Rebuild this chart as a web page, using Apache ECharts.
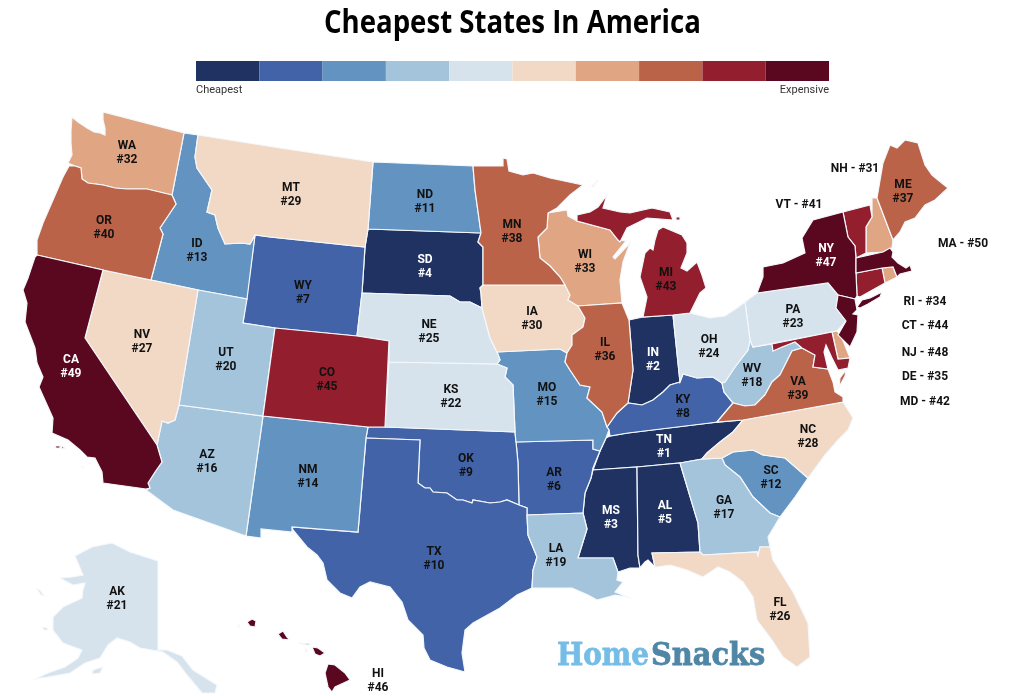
<!DOCTYPE html>
<html>
<head>
<meta charset="utf-8">
<style>
html, body { margin: 0; padding: 0; background: #fff; }
#usChart { width: 1024px; height: 696px; }
</style>
<script src="https://cdn.jsdelivr.net/npm/echarts@6/dist/echarts.min.js"></script>
</head>
<body>
<div id="usChart"></div>
<script>
// ranks
const stateCodes = ['TN','IN','MS','SD','AL','AR','WY','KY','OK','TX','ND','SC','ID','NM','MO','AZ','GA','WV','LA','UT',
    'AK','KS','PA','OH','NE','FL','NV','NC','MT','IA','NH','WA','WI','RI','DE','IL','ME','MN','VA','OR',
    'VT','MD','MI','CT','CO','HI','NY','NJ','CA','MA'];
const stateRanks = [1,2,3,4,5,6,7,8,9,10,11,12,13,14,15,16,17,18,19,20,
    21,22,23,24,25,26,27,28,29,30,31,32,33,34,35,36,37,38,39,40,
    41,42,43,44,45,46,47,48,49,50];
const binColors = ['#1f3262','#4263a8','#6393c1','#a4c4dc','#d6e3ec','#f2d9c5','#e0a583','#ba6349','#931e2d','#5a0820'];
const binSize = 5;
// small states labelled beside the map, on one line
const sideLabelStates = ['NH','VT','MA','RI','CT','NJ','DE','MD'];
// dark fills that carry a white label
const whiteLabelStates = ['TN','IN','MS','SD','AL','NY','CA'];

// state outlines, traced in picture coordinates (no map file available offline)
const stateOutlines = {
    WA: [[[72,117],[78,122],[87,128],[94,132],[100,133],[105,135],[105,128],[103,120],[103,112],[184,133],[172,195],[147,189],[127,189],[115,188],[103,185],[88,183],[82,179],[81,168],[75,166],[68,163],[72,155],[71,143],[71,130]]],
    OR: [[[69,166],[75,166],[81,168],[82,179],[88,183],[103,185],[115,188],[127,189],[147,189],[172,195],[176,204],[170,213],[160,228],[163,234],[151,280],[103,270],[37,255],[37,240],[43,223],[53,200],[63,177]]],
    ID: [[[184,133],[198,135],[195,157],[197,168],[212,190],[207,212],[215,215],[218,228],[225,244],[242,243],[250,244],[255,235],[247,299],[198,290],[151,280],[163,234],[160,228],[170,213],[176,204],[172,195]]],
    MT: [[[198,135],[280,148],[373,162],[368,229],[365,247],[270,237],[255,235],[250,244],[242,243],[225,244],[218,228],[215,215],[207,212],[212,190],[197,168],[195,157]]],
    ND: [[[373,162],[473,166],[475,190],[481,233],[368,229]]],
    SD: [[[368,229],[481,233],[478,242],[483,247],[483,285],[480,288],[481,293],[482,308],[470,302],[460,302],[450,296],[362,293],[365,247]]],
    MN: [[[473,166],[503,166],[503,158],[507,159],[509,171],[523,175],[533,173],[550,178],[583,185],[570,195],[557,208],[548,213],[547,228],[538,237],[540,258],[550,266],[560,277],[565,285],[483,285],[483,247],[478,242],[481,233],[475,190]]],
    WI: [[[548,213],[567,210],[568,216],[577,221],[610,230],[618,240],[626,241],[613,257],[615,259],[630,243],[623,262],[620,280],[622,303],[578,306],[568,300],[570,295],[565,285],[560,277],[550,266],[540,258],[538,237],[547,228]]],
    IA: [[[483,285],[565,285],[570,295],[568,300],[578,306],[585,318],[583,327],[572,335],[572,345],[567,353],[560,349],[497,352],[490,338],[482,308],[481,293],[480,288]]],
    NE: [[[362,293],[450,296],[460,302],[470,302],[482,308],[490,338],[497,352],[500,360],[497,364],[389,362],[389,341],[357,336]]],
    KS: [[[389,362],[497,364],[507,368],[505,377],[513,385],[515,432],[385,427]]],
    WY: [[[255,235],[270,237],[365,247],[362,293],[357,336],[275,328],[243,323]]],
    NV: [[[103,270],[151,280],[198,290],[179,405],[175,420],[168,423],[162,421],[157,445],[85,338]]],
    UT: [[[198,290],[247,299],[243,323],[275,328],[263,416],[179,405]]],
    CO: [[[275,328],[357,336],[389,341],[385,427],[368,427],[263,416]]],
    CA: [[[37,255],[103,270],[85,338],[157,445],[162,462],[155,472],[148,483],[150,488],[146,489],[103,483],[102,472],[95,458],[87,457],[80,450],[68,440],[52,433],[53,418],[39,387],[43,377],[37,363],[35,348],[25,322],[27,303],[23,290],[28,278],[35,257]],
        [[55,446],[60,446],[60,448],[56,448]], [[61,446],[65,448],[62,449]], [[81,466],[84,468],[83,469]]],
    AZ: [[[179,405],[263,416],[246,536],[173,510],[146,490],[150,488],[148,483],[155,472],[162,462],[157,445],[162,421],[168,423],[175,420]]],
    NM: [[[263,416],[368,427],[366,438],[358,532],[292,527],[292,532],[261,529],[261,538],[246,536]]],
    OK: [[[368,427],[385,427],[515,432],[516,442],[518,463],[519,505],[507,500],[500,502],[490,503],[473,500],[472,503],[463,500],[457,500],[447,493],[433,492],[430,488],[425,488],[418,483],[420,440],[366,438]]],
    TX: [[[366,438],[420,440],[418,483],[425,488],[430,488],[433,492],[447,493],[457,500],[463,500],[472,503],[473,500],[490,503],[500,502],[507,500],[519,505],[527,508],[527,515],[528,535],[537,557],[533,570],[532,588],[517,595],[500,608],[473,623],[465,630],[462,653],[465,672],[447,667],[430,660],[424,648],[423,635],[408,620],[402,602],[390,587],[370,582],[360,587],[352,598],[340,593],[327,580],[323,563],[317,555],[307,547],[293,530],[292,527],[358,532]]],
    AR: [[[516,442],[593,440],[593,449],[600,451],[593,468],[591,478],[585,493],[583,513],[527,515],[527,508],[519,505],[518,463]]],
    MO: [[[497,352],[560,349],[567,353],[565,362],[570,370],[580,385],[590,387],[587,398],[602,412],[607,427],[609,430],[606,438],[600,451],[593,449],[593,440],[516,442],[515,432],[513,385],[505,377],[507,368],[497,364],[500,360]]],
    IL: [[[578,306],[622,303],[629,320],[633,370],[628,403],[617,413],[607,427],[602,412],[587,398],[590,387],[580,385],[570,370],[565,362],[567,353],[572,345],[572,335],[583,327],[585,318]]],
    IN: [[[629,320],[643,317],[673,315],[680,382],[670,385],[663,392],[653,400],[642,405],[628,403],[633,370]]],
    OH: [[[673,315],[690,313],[710,318],[725,316],[737,308],[745,302],[750,340],[748,350],[735,367],[725,382],[722,383],[713,377],[697,378],[683,374],[680,382]]],
    KY: [[[680,382],[683,374],[697,378],[713,377],[722,383],[724,392],[733,403],[717,422],[710,423],[628,433],[610,436],[609,430],[607,427],[617,413],[628,403],[642,405],[653,400],[663,392],[670,385]]],
    TN: [[[628,433],[710,423],[743,420],[733,432],[720,442],[707,453],[702,459],[680,463],[637,467],[593,470],[600,451],[606,438],[610,436]]],
    MS: [[[593,470],[637,467],[638,555],[640,568],[630,568],[618,572],[613,558],[578,558],[587,529],[583,513],[585,493],[591,478]]],
    AL: [[[637,467],[680,463],[698,523],[700,552],[652,553],[655,567],[648,560],[645,562],[640,568],[638,555]]],
    GA: [[[680,463],[702,459],[722,458],[725,465],[740,477],[753,497],[770,513],[780,517],[768,537],[770,547],[760,547],[758,556],[757,552],[703,555],[700,552],[698,523]]],
    SC: [[[722,458],[733,452],[753,450],[763,455],[785,458],[808,478],[795,497],[780,517],[770,513],[753,497],[740,477],[725,465]]],
    NC: [[[702,459],[707,453],[720,442],[733,432],[743,420],[843,402],[853,418],[848,430],[838,440],[825,455],[808,478],[785,458],[763,455],[753,450],[733,452],[722,458]]],
    FL: [[[652,553],[700,552],[703,555],[757,552],[758,556],[760,547],[770,547],[773,560],[793,592],[808,623],[810,657],[797,667],[783,657],[772,640],[757,620],[753,597],[743,582],[730,572],[718,567],[703,577],[687,570],[670,565],[657,567],[655,567]]],
    LA: [[[527,515],[583,513],[587,529],[578,558],[613,558],[618,572],[617,580],[623,582],[615,592],[628,597],[615,595],[597,600],[588,595],[572,588],[550,588],[532,588],[533,570],[537,557],[528,535]]],
    MI: [[[577,221],[577,215],[590,212],[598,207],[607,195],[603,208],[620,212],[630,213],[643,210],[652,208],[670,212],[673,220],[660,219],[647,218],[637,223],[627,228],[620,242],[618,240],[610,230]],
        [[658,230],[663,227],[682,235],[687,243],[687,253],[681,268],[687,271],[697,262],[702,275],[706,288],[700,293],[690,313],[673,315],[643,317],[647,297],[640,277],[645,253],[650,248],[653,250],[655,240]],
        [[676,217],[680,217],[680,220],[676,220]], [[592,186],[598,180],[599,181],[593,187]]],
    PA: [[[745,302],[757,293],[828,283],[838,295],[836,308],[846,321],[837,331],[753,347],[750,340]]],
    NY: [[[757,293],[763,277],[763,267],[783,263],[805,253],[802,238],[813,220],[843,212],[848,237],[855,246],[856,258],[856,273],[857,296],[855,299],[838,295],[828,283]],
        [[857,307],[862,300],[870,298],[882,292],[880,297],[868,304],[860,308]]],
    VT: [[[843,212],[870,205],[872,217],[866,227],[866,253],[856,258],[855,246],[848,237]]],
    NH: [[[872,198],[877,198],[893,240],[892,248],[883,252],[866,253],[866,227],[872,217]]],
    ME: [[[877,198],[883,163],[890,145],[897,148],[905,140],[918,143],[925,165],[932,175],[938,180],[948,188],[935,200],[925,205],[915,218],[905,222],[900,232],[893,240]]],
    MA: [[[856,258],[883,252],[890,248],[893,252],[892,257],[898,263],[906,268],[910,265],[912,271],[900,274],[897,277],[893,267],[882,268],[856,273]]],
    CT: [[[856,273],[882,268],[885,283],[860,297],[857,296]]],
    RI: [[[882,268],[893,267],[897,277],[885,283]]],
    NJ: [[[838,295],[855,299],[857,310],[853,314],[858,315],[857,332],[850,347],[838,335],[846,321],[836,308]]],
    DE: [[[832,332],[837,331],[842,338],[850,358],[838,359]]],
    MD: [[[772,344],[832,332],[838,359],[850,358],[848,368],[838,370],[832,358],[826,345],[824,352],[828,369],[813,367],[815,355],[802,348],[795,342],[782,347],[773,351]]],
    VA: [[[717,422],[733,403],[745,406],[755,405],[765,395],[772,382],[780,375],[785,365],[792,351],[802,348],[815,355],[813,367],[828,369],[833,382],[835,392],[843,397],[843,402],[743,420]],
        [[840,378],[846,370],[845,376],[839,387]]],
    WV: [[[750,340],[753,347],[772,344],[773,351],[782,347],[795,342],[802,348],[792,351],[785,365],[780,375],[772,382],[765,395],[755,405],[745,406],[733,403],[724,392],[722,383],[725,382],[735,367],[748,350]]],
    AK: [[[75,556],[92,547],[112,543],[130,552],[158,561],[158,650],[167,650],[182,656],[193,670],[217,685],[215,693],[202,693],[187,675],[177,662],[163,652],[140,648],[130,642],[117,638],[108,645],[100,658],[85,663],[70,673],[48,677],[35,679],[48,673],[65,667],[78,658],[82,650],[63,643],[53,630],[53,617],[63,607],[82,598],[83,590],[85,583],[73,585],[60,578],[72,577],[83,575],[78,563]],
        [[93,670],[103,667],[100,673],[92,674]], [[37,589],[40,590],[44,596],[41,595]], [[42,627],[47,628],[48,630],[44,630]]],
    HI: [[[247,622],[252,619],[256,621],[255,627],[250,626]], [[237,627],[239,625],[239,627]], [[278,634],[283,631],[287,637],[290,640],[282,639]],
        [[299,643],[310,644],[307,645]], [[305,649],[307,650],[306,652]], [[312,647],[318,648],[325,653],[320,656],[315,654]],
        [[328,664],[335,665],[345,673],[350,680],[335,687],[332,692],[328,687],[325,673]]]
};
// where each label sits
const labelPoints = {
    WA:[127,153], OR:[104,228], CA:[71,367], NV:[142,342], UT:[226,360], AZ:[207,462], ID:[197,251], MT:[291,195],
    WY:[303,293], CO:[327,380], NM:[308,477], ND:[425,202], SD:[425,267], NE:[429,332], KS:[451,397], OK:[466,466],
    TX:[434,559], MN:[512,232], IA:[532,319], MO:[547,395], AR:[554,480], LA:[556,556], WI:[585,262], IL:[605,350],
    MI:[666,280], IN:[653,360], OH:[709,347], KY:[683,407], TN:[664,447], MS:[611,518], AL:[665,513], GA:[724,508],
    SC:[771,478], FL:[780,610], NC:[808,437], VA:[798,389], WV:[752,376], PA:[793,317], NY:[826,256], ME:[903,192],
    AK:[117,599], HI:[378,681], NH:[855,169], VT:[799,205], MA:[963,244], RI:[925,302], CT:[925,326], NJ:[925,353],
    DE:[925,377], MD:[925,402]
};

$ready();

function $ready() {
    let usChart = echarts.init(document.getElementById('usChart'), null, { renderer: 'canvas' });
    echarts.registerMap('usStates', buildGeoJson());
    drawChart(usChart);
}
// 拼 geojson
function buildGeoJson() {
    let features = stateCodes.map(function(code) {
        return {
            type: 'Feature',
            properties: { name: code, cp: labelPoints[code] },
            geometry: {
                type: 'MultiPolygon',
                coordinates: stateOutlines[code].map(function(ring) {
                    return [ring.concat([ring[0]])];
                })
            }
        };
    });
    return { type: 'FeatureCollection', features: features };
}
function shapeBox() {
    let xs = [], ys = [];
    stateCodes.forEach(function(code) {
        stateOutlines[code].forEach(function(ring) {
            ring.forEach(function(p) { xs.push(p[0]); ys.push(p[1]); });
        });
    });
    let left = Math.min.apply(null, xs), top = Math.min.apply(null, ys);
    return { left: left, top: top, width: Math.max.apply(null, xs) - left, height: Math.max.apply(null, ys) - top };
}
function drawChart(chart) {
    let box = shapeBox();
    let pieces = binColors.map(function(color, i) {
        return { min: i * binSize + 1, max: (i + 1) * binSize, color: color };
    });
    let seriesData = stateCodes.map(function(code, i) {
        return {
            name: code,
            value: stateRanks[i],
            label: { color: whiteLabelStates.indexOf(code) >= 0 ? '#fff' : '#111' }
        };
    });
    let option = {
        animation: false,
        backgroundColor: '#fff',
        visualMap: {
            type: 'piecewise',
            orient: 'horizontal',
            left: 196,
            top: 61,
            itemWidth: 63.3,
            itemHeight: 20,
            itemGap: 0,
            itemSymbol: 'rect',
            showLabel: false,
            selectedMode: false,
            hoverLink: false,
            padding: 0,
            pieces: pieces
        },
        graphic: [
            { type: 'text', x: 324, y: 8, scaleX: 0.862, style: { text: 'Cheapest States In America', fontFamily: 'Open Sans', fontWeight: 'bold', fontSize: 32, fill: '#000' } },
            { type: 'text', left: 196, top: 85, style: { text: 'Cheapest', fontFamily: 'Roboto', fontSize: 11, fill: '#333' } },
            { type: 'text', right: 195, top: 85, style: { text: 'Expensive', fontFamily: 'Roboto', fontSize: 11, fill: '#333' } },
            { type: 'text', x: 557, y: 641, scaleX: 0.87, style: { text: 'Home', fontFamily: 'DejaVu Serif', fontWeight: 'bold', fontSize: 32, fill: '#74bde6', stroke: '#74bde6', lineWidth: 0.8 } },
            { type: 'text', x: 651, y: 641, scaleX: 0.9, style: { text: 'Snacks', fontFamily: 'DejaVu Serif', fontWeight: 'bold', fontSize: 32, fill: '#4f86a6', stroke: '#4f86a6', lineWidth: 0.8 } }
        ],
        series: [{
            type: 'map',
            map: 'usStates',
            projection: {
                project: function(p) { return p; },
                unproject: function(p) { return p; }
            },
            left: box.left,
            top: box.top,
            width: box.width,
            height: box.height,
            aspectScale: 1,
            roam: false,
            silent: true,
            itemStyle: { borderColor: '#f4f8fc', borderWidth: 1.2 },
            label: {
                show: true,
                fontFamily: 'Roboto',
                fontWeight: 'bold',
                fontSize: 12,
                lineHeight: 14.5,
                formatter: function(params) {
                    if (sideLabelStates.indexOf(params.name) >= 0) {
                        return params.name + ' - #' + params.value;
                    }
                    return params.name + '\n#' + params.value;
                }
            },
            data: seriesData
        }]
    };
    chart.setOption(option);
}
</script>
</body>
</html>
